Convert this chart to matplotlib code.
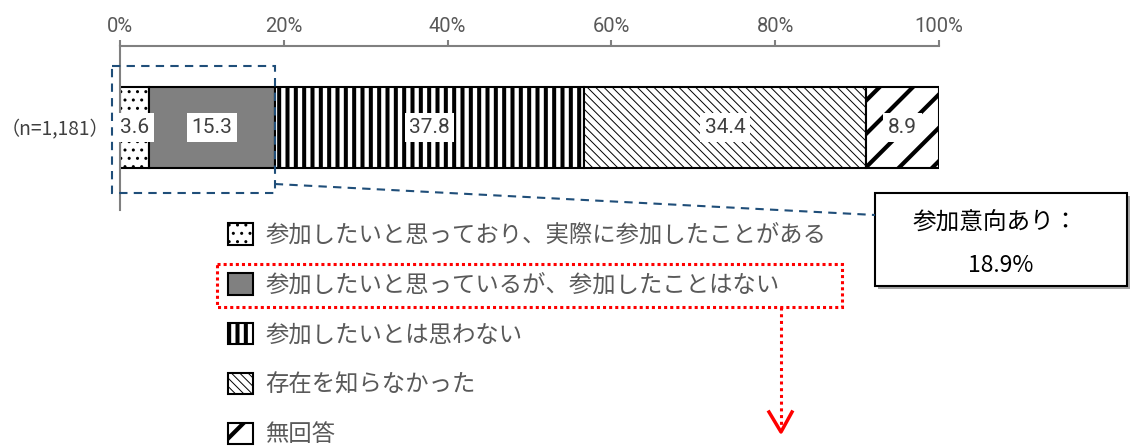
import matplotlib
matplotlib.use("Agg")
import matplotlib.pyplot as plt
from matplotlib.patches import Rectangle
from matplotlib.lines import Line2D

# ---- data ----
categories = ["参加したいと思っており、実際に参加したことがある",
              "参加したいと思っているが、参加したことはない",
              "参加したいとは思わない",
              "存在を知らなかった",
              "無回答"]
values = [3.6, 15.3, 37.8, 34.4, 8.9]
row_label = "（n=1,181）"
tick_values = [0, 20, 40, 60, 80, 100]
tick_labels = ["0%", "20%", "40%", "60%", "80%", "100%"]
callout_title = "参加意向あり："
callout_value = "18.9%"
n_interest = 2  # first two categories form the "interest" group

# ---- styles ----
faces = ["white", "#808080", "white", "white", "white"]
hatches = ["..", None, "||", "\\\\\\\\", "/"]
hatch_lw = [1.0, 1.0, 2.9, 0.7, 3.0]

W, H = 1131, 447
fig = plt.figure(figsize=(W / 100, H / 100), dpi=100)
ax = fig.add_axes([120 / W, (H - 210) / H, 819 / W, 164 / H])
ax.set_xlim(0, 100)
ax.set_ylim(0, 1)

JP = ["Noto Sans CJK JP", "DejaVu Sans"]
NUM = ["Roboto", "DejaVu Sans"]

left = 0.0
bars = []
for cat, v, fc, h, hl in zip(categories, values, faces, hatches, hatch_lw):
    b = ax.barh(0.503, v, left=left, height=0.494, color=fc, edgecolor="black",
                linewidth=1.5, hatch=h, label=cat)
    for p in b:
        if hasattr(p, "set_hatch_linewidth"):
            p.set_hatch_linewidth(hl)
    bars.append(b)
    ax.text(left + v / 2, 0.503, f"{v:.1f}", ha="center", va="center",
            fontsize=15, color="#404040", family=NUM,
            bbox=dict(boxstyle="square,pad=0.22", fc="white", ec="none"))
    left += v

for s in ["right", "bottom"]:
    ax.spines[s].set_visible(False)
for s in ["top", "left"]:
    ax.spines[s].set_color("#808080")
    ax.spines[s].set_linewidth(1.5)
ax.xaxis.tick_top()
ax.set_xticks(tick_values)
ax.set_xticklabels(tick_labels, family=NUM)
ax.tick_params(axis="x", direction="out", length=4.5, width=1.5, color="#808080",
               labelcolor="#595959", labelsize=14.5, pad=3)
ax.set_yticks([0.503])
ax.set_yticklabels([row_label], family=JP)
ax.tick_params(axis="y", length=0, labelsize=13.8, labelcolor="#404040", pad=8)

# ---- legend ----
leg = fig.legend(handles=[b[0] for b in bars], labels=categories,
                 loc="upper left", bbox_to_anchor=(228 / W, 1 - 223 / H),
                 frameon=False, borderpad=0, borderaxespad=0,
                 handlelength=1.05, handleheight=1.05, handletextpad=0.55,
                 labelspacing=1.12, prop={"family": JP, "size": 16.8})
for t in leg.get_texts():
    t.set_color("#595959")
for p, hl in zip(leg.get_patches(), hatch_lw):
    if hasattr(p, "set_hatch_linewidth"):
        p.set_hatch_linewidth(hl)

# ---- overlay annotations in pixel space ----
ov = fig.add_axes([0, 0, 1, 1], zorder=5)
ov.set_xlim(0, W)
ov.set_ylim(H, 0)
ov.axis("off")
ov.patch.set_alpha(0)

def xpix(v):
    return ax.transData.transform((v, 0))[0]

x0 = xpix(0) - 8
x1 = xpix(sum(values[:n_interest]))
blue = "#1F4E79"
ov.add_patch(Rectangle((x0, 66), x1 - x0, 193 - 66, fill=False, ec=blue,
                       lw=1.5, ls=(0, (4, 3))))
ov.add_line(Line2D([x1, 875], [184, 215], color=blue, lw=1.5, ls=(0, (4, 3))))

# callout box with shadow
ov.add_patch(Rectangle((878, 196), 252, 93, fc="#A6A6A6", ec="none"))
ov.add_patch(Rectangle((875, 193), 252, 93, fc="white", ec="black", lw=1.5))
ov.text(995, 223, callout_title, ha="center", va="center", fontsize=17,
        family=JP, color="black")
ov.text(1001, 266, callout_value, ha="center", va="center", fontsize=16.5,
        family=JP, color="black")

# red dotted box and arrow
red = "#FF0000"
ov.add_patch(Rectangle((217, 264), 842 - 217, 307 - 264, fill=False, ec=red,
                       lw=2.2, ls=(0, (1, 1))))
ov.add_line(Line2D([781, 781], [307, 428], color=red, lw=2.2, ls=(0, (1, 1.2))))
ov.add_line(Line2D([769, 781, 792], [412, 432, 412], color=red, lw=2.5))

fig.savefig("out.png", dpi=100)
